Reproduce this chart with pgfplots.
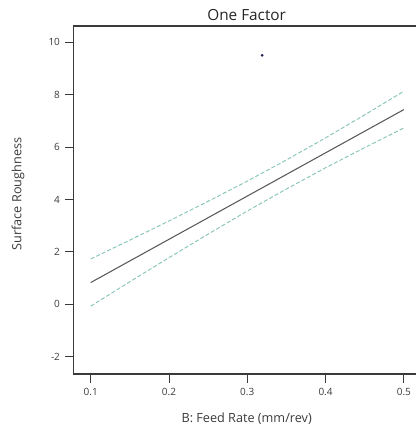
\documentclass[border=0pt]{standalone}
\usepackage{pgfplots}
\pgfplotsset{compat=1.18}
\usepackage{fontspec}
\setmainfont{Open Sans}
\definecolor{citeal}{HTML}{86C4BA}
\definecolor{fitgray}{HTML}{5A5A5A}
\definecolor{txtgray}{HTML}{3A3A3A}
\definecolor{ptblue}{HTML}{20205A}
\begin{document}
\begin{tikzpicture}
\begin{axis}[
  at={(0,0)}, anchor=south west,
  scale only axis,
  width=257pt, height=261pt,
  xmin=0.0778, xmax=0.5155,
  ymin=-2.66, ymax=10.62,
  xtick={0.1,0.2,0.3,0.4,0.5},
  xticklabels={0.1,0.2,0.3,0.4,0.5},
  ytick={-2,0,2,4,6,8,10},
  xtick pos=bottom, ytick pos=left,
  tick align=outside,
  major tick length=6.5pt,
  tick style={draw=txtgray, line width=0.7pt},
  axis line style={draw=none},
  /pgf/number format/assume math mode=true,
  ticklabel style={font=\fontsize{7.5}{8.5}\selectfont, text=txtgray},
  xticklabel style={yshift=-1pt},
  clip=false,
]
\draw[txtgray, line width=0.8pt] (rel axis cs:1,1) -- (rel axis cs:0,1) -- (rel axis cs:0,0) -- (rel axis cs:1,0);
\addplot[citeal, line width=0.7pt, dash pattern=on 3pt off 1.6pt] coordinates {
(0.10,1.73) (0.15,2.449) (0.20,3.18) (0.25,3.93) (0.30,4.70) (0.35,5.51) (0.40,6.35) (0.45,7.23) (0.50,8.13)};
\addplot[citeal, line width=0.7pt, dash pattern=on 3pt off 1.6pt] coordinates {
(0.10,-0.07) (0.15,0.861) (0.20,1.78) (0.25,2.68) (0.30,3.56) (0.35,4.40) (0.40,5.21) (0.45,5.98) (0.50,6.73)};
\addplot[fitgray, line width=0.8pt] coordinates {(0.10,0.83) (0.50,7.43)};
\addplot[only marks, mark=*, mark size=0.8pt, ptblue] coordinates {(0.319,9.5)};
\end{axis}
\node[anchor=base, font=\fontsize{11.5}{13}\selectfont, text=black!85] at (130pt,265pt) {One Factor};
\node[rotate=90, font=\fontsize{9.5}{11}\selectfont, text=txtgray] at (-41.5pt,135pt) {Surface Roughness};
\node[anchor=base, font=\fontsize{9.5}{11}\selectfont, text=txtgray] at (130pt,-36.5pt) {B: Feed Rate (mm/rev)};
\pgfresetboundingbox
\path (-55pt,-42pt) rectangle (257pt,280.5pt);
\end{tikzpicture}
\end{document}
